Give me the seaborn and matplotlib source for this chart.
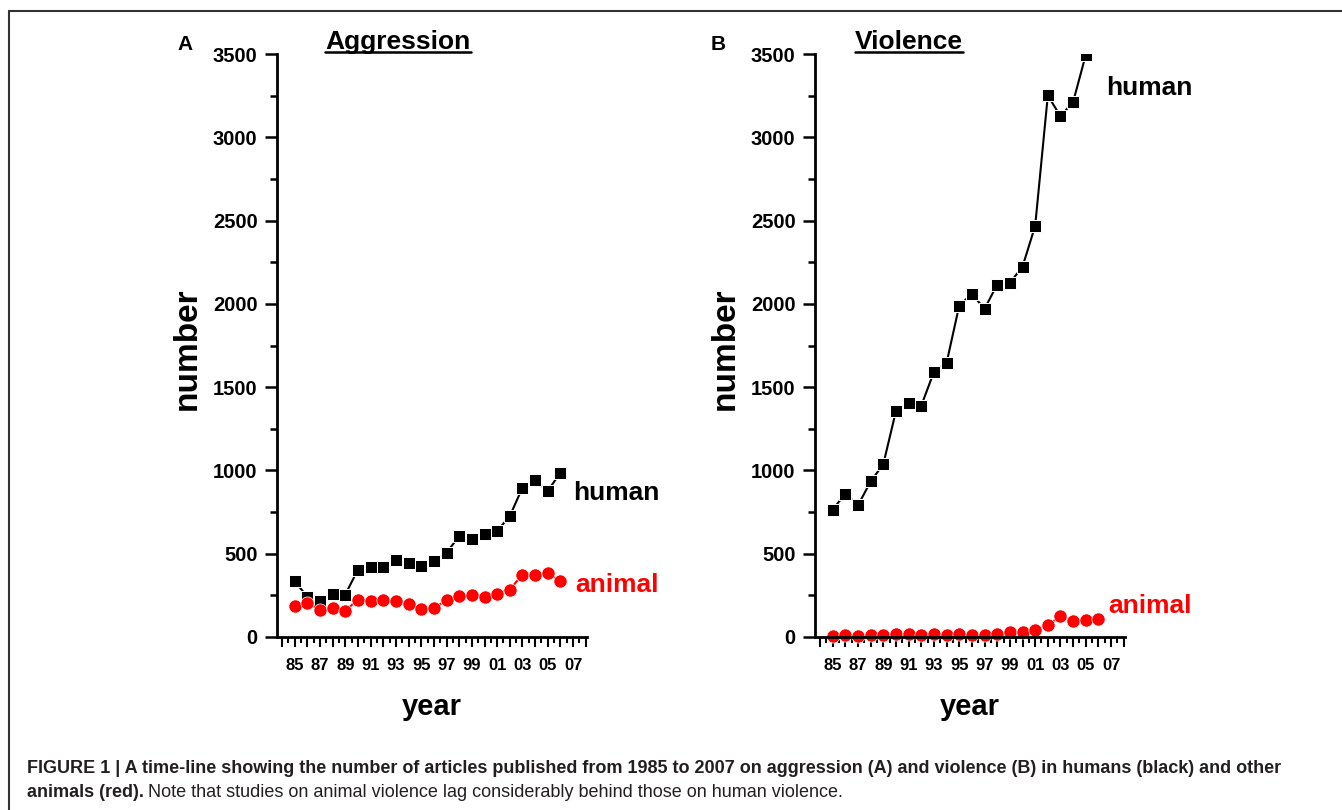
import matplotlib
matplotlib.use('Agg')
import matplotlib.pyplot as plt
import seaborn as sns
from matplotlib.lines import Line2D
from matplotlib.ticker import MultipleLocator, FixedLocator, FuncFormatter

# years as 85..106 (1985-2006)
years = list(range(85, 107))
aggr_human = [335, 241, 214, 261, 255, 405, 419, 419, 461, 445, 425, 455,
              506, 606, 586, 616, 636, 726, 897, 941, 877, 987]
aggr_animal = [184, 205, 164, 175, 158, 225, 218, 225, 218, 199, 168, 175,
               220, 249, 255, 239, 261, 285, 375, 375, 385, 335]
viol_years_human = list(range(85, 106))
viol_human = [765, 861, 791, 934, 1038, 1357, 1403, 1389, 1592, 1646, 1990,
              2060, 1970, 2116, 2126, 2223, 2468, 3251, 3126, 3212, 3495]
viol_animal = [8, 12, 8, 12, 14, 20, 20, 14, 18, 14, 18, 14, 14, 20, 28, 30,
               40, 70, 128, 94, 100, 108]

W, H = 1342, 810
sns.set_style('ticks')
plt.rcParams['font.family'] = ['Liberation Sans', 'DejaVu Sans']
plt.rcParams['font.weight'] = 'bold'
for k in ['text.color', 'axes.labelcolor', 'xtick.color', 'ytick.color', 'axes.edgecolor']:
    plt.rcParams[k] = 'black'

fig = plt.figure(figsize=(W / 100, H / 100), dpi=100)

XMIN, XMAX = 83.6, 108.1
YMIN, YMAX = -40, 3500
ax_w = 310 / W
ax_h = (637 - 54) * (YMAX - YMIN) / 3500 / H
ax_b = 1 - (637 + (0 - YMIN) * 583 / 3500) / H
RED = '#ff0000'


def panel(left_px, human_x, human_y, animal_y, title, title_cx, letter, letter_x,
          hum_txt, ani_txt):
    ax = fig.add_axes([left_px / W, ax_b, ax_w, ax_h])
    sns.lineplot(x=human_x, y=human_y, ax=ax, color='black', marker='s',
                 markersize=8.2, markeredgecolor='white', markeredgewidth=0.7,
                 linewidth=1.5)
    sns.lineplot(x=years, y=animal_y, ax=ax, color=RED, marker='o',
                 markersize=9.5, markeredgecolor='white', markeredgewidth=0.5,
                 linewidth=1.5)
    ax.set_xlim(XMIN, XMAX)
    ax.set_ylim(YMIN, YMAX)
    for s in ['top', 'right']:
        ax.spines[s].set_visible(False)
    ax.spines['bottom'].set_position(('data', 0))
    ax.spines['left'].set_bounds(0, 3500)
    for s in ['left', 'bottom']:
        ax.spines[s].set_linewidth(2)

    ax.yaxis.set_major_locator(FixedLocator(range(0, 3501, 500)))
    ax.yaxis.set_minor_locator(FixedLocator(range(250, 3500, 500)))
    ax.xaxis.set_major_locator(MultipleLocator(1))
    ax.xaxis.set_minor_locator(MultipleLocator(0.5))
    ax.xaxis.set_major_formatter(FuncFormatter(
        lambda v, p: f"{int(round(v)) % 100:02d}" if int(round(v)) % 2 == 1 else ''))
    ax.tick_params(axis='y', which='major', length=9, width=1.8, labelsize=14.5, pad=5)
    ax.tick_params(axis='y', which='minor', length=5, width=1.8)
    ax.tick_params(axis='x', which='major', length=7, width=1.5, labelsize=12, pad=8)
    ax.tick_params(axis='x', which='minor', length=4, width=1.5)
    for lab in ax.get_xticklabels() + ax.get_yticklabels():
        lab.set_fontweight('bold')

    ax.set_xlabel('year', fontsize=21, fontweight='bold')
    ax.set_ylabel('number', fontsize=24, fontweight='bold')
    ax.xaxis.set_label_coords(0.5, -0.083)
    ax.yaxis.set_label_coords(-0.24, 0.5)

    ax.text(hum_txt[0], hum_txt[1], 'human', fontsize=19, fontweight='bold',
            color='black', ha='left', va='center', clip_on=False)
    ax.text(ani_txt[0], ani_txt[1], 'animal', fontsize=19, fontweight='bold',
            color=RED, ha='left', va='center', clip_on=False)

    t = fig.text(title_cx / W, 1 - 49 / H, title, fontsize=19, fontweight='bold',
                 ha='center', va='baseline')
    fig.text(letter_x / W, 1 - 44.5 / H, letter, fontsize=15, fontweight='bold',
             ha='center', va='center')
    return ax, t


ax_a, t_a = panel(277, years, aggr_human, aggr_animal, 'Aggression', 398, 'A', 185.5,
                  (107.0, 864), (107.15, 312))
ax_b2, t_b = panel(815, viol_years_human, viol_human, viol_animal, 'Violence', 909, 'B', 718,
                   (106.6, 3294), (106.75, 186))

# underline the titles
fig.canvas.draw()
rend = fig.canvas.get_renderer()
for t in (t_a, t_b):
    bb = t.get_window_extent(rend)
    yy = 1 - 52 / H
    fig.add_artist(Line2D([bb.x0 / W, bb.x1 / W], [yy, yy], color='black', linewidth=1.8))

# frame
fc = '#333333'
fig.add_artist(Line2D([9 / W, 1], [1 - 11 / H, 1 - 11 / H], color=fc, linewidth=1.5))
fig.add_artist(Line2D([9 / W, 9 / W], [0, 1 - 11 / H], color=fc, linewidth=1.5))

# caption
cap_col = '#231f20'
fig.text(27 / W, 1 - 773 / H,
         'FIGURE 1 | A time-line showing the number of articles published from 1985 to 2007 '
         'on aggression (A) and violence (B) in humans (black) and other',
         fontsize=13, fontweight='bold', color=cap_col, va='baseline', ha='left')
b2 = fig.text(27 / W, 1 - 797 / H, 'animals (red).', fontsize=13, fontweight='bold',
              color=cap_col, va='baseline', ha='left')
fig.canvas.draw()
bb2 = b2.get_window_extent(fig.canvas.get_renderer())
fig.text(bb2.x1 / W + 4 / W, 1 - 797 / H,
         'Note that studies on animal violence lag considerably behind those on human violence.',
         fontsize=13, fontweight='normal', color=cap_col, va='baseline', ha='left')

fig.savefig('out.png', dpi=100)
